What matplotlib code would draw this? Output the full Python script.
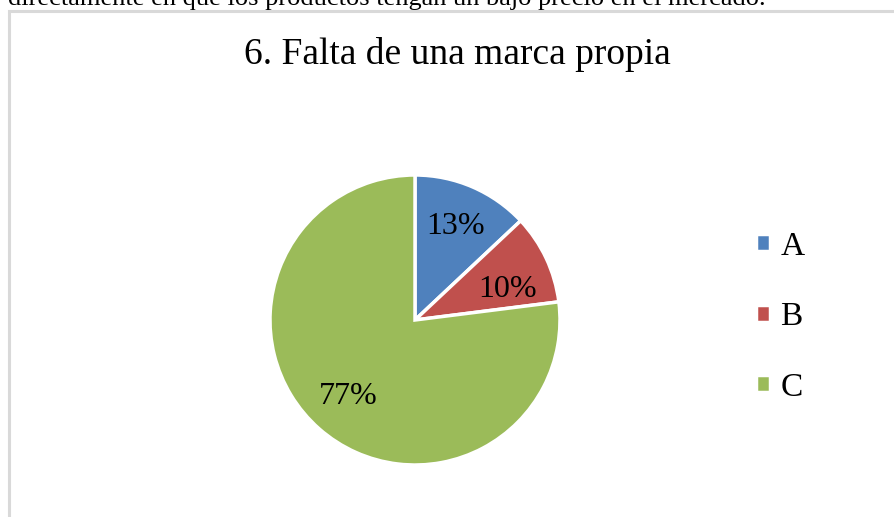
import matplotlib
matplotlib.use("Agg")
import matplotlib.pyplot as plt
from matplotlib.patches import Rectangle

plt.rcParams["font.family"] = ["Liberation Serif", "DejaVu Serif"]

categories = ["A", "B", "C"]
values = [13, 10, 77]
colors = ["#4f81bd", "#c0504d", "#9bbb59"]
title = "6. Falta de una marca propia"
top_text = "directamente en que los productos tengan un bajo precio en el mercado."

fig = plt.figure(figsize=(8.94, 5.17), dpi=100)

# chart frame (light grey border, cut at right/bottom)
fig.patches.append(Rectangle((9 / 894, -0.1), 1.0, (517 - 10.5) / 517 + 0.1,
                             transform=fig.transFigure, fill=False,
                             edgecolor="#d9d9d9", linewidth=2.2))

# clipped text from the page above the chart
fig.text(8 / 894, 1 + 1 / 517, top_text, fontsize=19, ha="left", va="center")

fig.text(457 / 894, 1 - 55 / 517, title, fontsize=27, ha="center", va="center")

r = 145
cx, cy = 415, 320
ax = fig.add_axes([(cx - r) / 894, 1 - (cy + r) / 517, 2 * r / 894, 2 * r / 517])
wedges, texts, autotexts = ax.pie(
    values, colors=colors, startangle=90, counterclock=False,
    autopct="%1.0f%%", pctdistance=0.7,
    wedgeprops=dict(edgecolor="white", linewidth=2.5),
    textprops=dict(fontsize=23, color="black"))
# Excel "best fit" puts the B label a bit lower than the wedge middle
autotexts[1].set_position((0.64, 0.21))
ax.set_xlim(-1, 1)
ax.set_ylim(-1, 1)
ax.set_aspect("equal")

fig.legend(wedges, categories, loc="center left",
           bbox_to_anchor=(743 / 894, 1 - 317 / 517), frameon=False,
           borderaxespad=0, fontsize=24, handlelength=0.42, handleheight=0.42,
           handletextpad=0.3, labelspacing=1.2)

fig.savefig("out.png", dpi=100)
